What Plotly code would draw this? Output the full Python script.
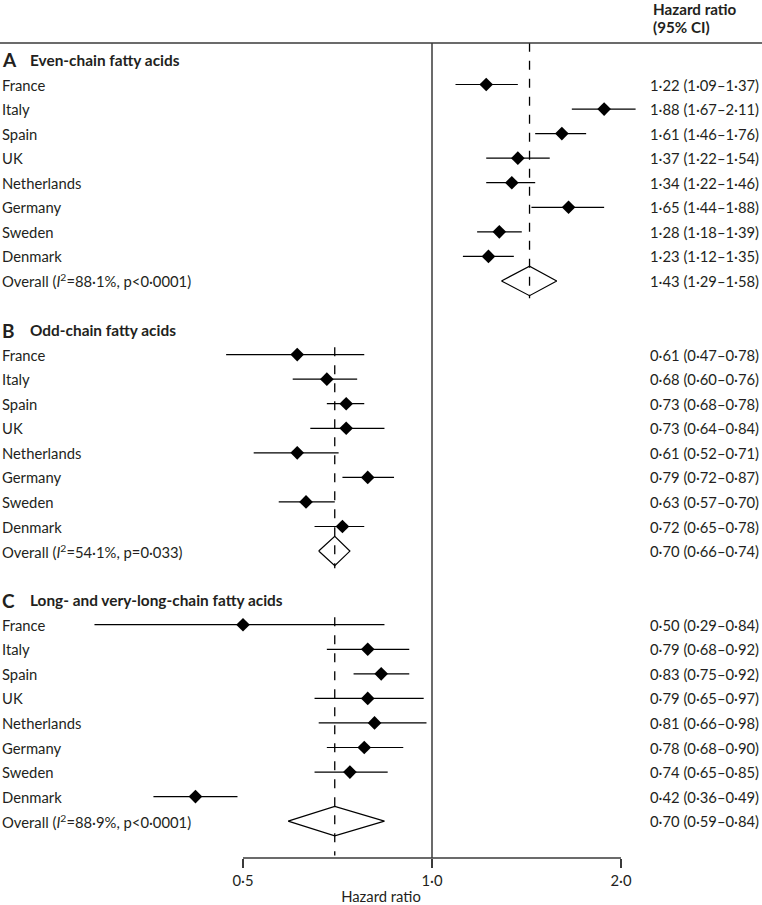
import math
import plotly.graph_objects as go

countries = ["France", "Italy", "Spain", "UK", "Netherlands", "Germany", "Sweden", "Denmark"]

panel_letters = ["A", "B", "C"]
panel_titles = ["Even-chain fatty acids", "Odd-chain fatty acids", "Long- and very-long-chain fatty acids"]

even_hr = [1.22, 1.88, 1.61, 1.37, 1.34, 1.65, 1.28, 1.23]
even_lo = [1.09, 1.67, 1.46, 1.22, 1.22, 1.44, 1.18, 1.12]
even_hi = [1.37, 2.11, 1.76, 1.54, 1.46, 1.88, 1.39, 1.35]

odd_hr = [0.61, 0.68, 0.73, 0.73, 0.61, 0.79, 0.63, 0.72]
odd_lo = [0.47, 0.60, 0.68, 0.64, 0.52, 0.72, 0.57, 0.65]
odd_hi = [0.78, 0.76, 0.78, 0.84, 0.71, 0.87, 0.70, 0.78]

long_hr = [0.50, 0.79, 0.83, 0.79, 0.81, 0.78, 0.74, 0.42]
long_lo = [0.29, 0.68, 0.75, 0.65, 0.66, 0.68, 0.65, 0.36]
long_hi = [0.84, 0.92, 0.92, 0.97, 0.98, 0.90, 0.85, 0.49]

overall_hr = [1.43, 0.70, 0.70]
overall_lo = [1.29, 0.66, 0.59]
overall_hi = [1.58, 0.74, 0.84]
overall_i2 = ["88·1%", "54·1%", "88·9%"]
overall_p = ["p&lt;0·0001", "p=0·033", "p&lt;0·0001"]

tick_vals = [0.5, 1.0, 2.0]
tick_text = ["0·5", "1·0", "2·0"]

panels = [(even_hr, even_lo, even_hi), (odd_hr, odd_lo, odd_hi), (long_hr, long_lo, long_hi)]

FONT = "Lato"
TXT = "#231f20"
FS = 14.8


def fmt(v):
    return f"{v:.2f}".replace(".", "·")


fig = go.Figure()
annotations = []
shapes = []

# layout: each panel = header row + 8 countries + overall + blank row
for p, (hr, lo, hi) in enumerate(panels):
    base = p * 11
    annotations.append(dict(x=0, xref="paper", y=base, yref="y", xanchor="left", yanchor="middle",
                            text=f"<b>{panel_letters[p]}</b>", showarrow=False,
                            font=dict(family=FONT, size=19, color=TXT)))
    annotations.append(dict(x=28 / 762, xref="paper", y=base, yref="y", xanchor="left", yanchor="middle",
                            text=f"<b>{panel_titles[p]}</b>", showarrow=False,
                            font=dict(family=FONT, size=15.4, color=TXT)))
    ys = [base + 1 + i for i in range(len(countries))]
    lx, ly = [], []
    for y, a, b in zip(ys, lo, hi):
        lx += [a, b, None]
        ly += [y, y, None]
    fig.add_trace(go.Scatter(x=lx, y=ly, mode="lines", line=dict(color="black", width=1.2),
                             hoverinfo="skip", showlegend=False))
    fig.add_trace(go.Scatter(x=hr, y=ys, mode="markers",
                             marker=dict(symbol="diamond", size=10.5, color="black"),
                             showlegend=False))
    for y, c, h, a, b in zip(ys, countries, hr, lo, hi):
        annotations.append(dict(x=0, xref="paper", y=y, yref="y", xanchor="left", yanchor="middle",
                                text=c, showarrow=False, font=dict(family=FONT, size=FS, color=TXT)))
        annotations.append(dict(x=648 / 762, xref="paper", y=y, yref="y", xanchor="left", yanchor="middle",
                                text=f"{fmt(h)} ({fmt(a)}–{fmt(b)})", showarrow=False,
                                font=dict(family=FONT, size=FS, color=TXT)))
    yo = base + 9
    hh = 0.6
    o, ol, oh = overall_hr[p], overall_lo[p], overall_hi[p]
    fig.add_trace(go.Scatter(x=[ol, o, oh, o, ol], y=[yo, yo - hh, yo, yo + hh, yo], mode="lines",
                             fill="toself", fillcolor="white", line=dict(color="black", width=1.2),
                             hoverinfo="skip", showlegend=False))
    annotations.append(dict(x=0, xref="paper", y=yo, yref="y", xanchor="left", yanchor="middle",
                            text=f"Overall (<i>I</i><sup>2</sup>={overall_i2[p]}, {overall_p[p]})",
                            showarrow=False, font=dict(family=FONT, size=FS, color=TXT)))
    annotations.append(dict(x=648 / 762, xref="paper", y=yo, yref="y", xanchor="left", yanchor="middle",
                            text=f"{fmt(o)} ({fmt(ol)}–{fmt(oh)})", showarrow=False,
                            font=dict(family=FONT, size=FS, color=TXT)))
    y0 = -0.7 if p == 0 else base + 0.7
    y1 = yo + (1.4 if p == 2 else 0.7)
    shapes.append(dict(type="line", xref="x", yref="y", x0=o, x1=o, y0=y0, y1=y1,
                       line=dict(color="black", width=1.3, dash="dash")))

shapes.append(dict(type="line", xref="x", yref="paper", x0=1.0, x1=1.0, y0=0, y1=1,
                   line=dict(color="#3a3a3a", width=1.5)))
shapes.append(dict(type="line", xref="paper", yref="paper", x0=0, x1=1, y0=1, y1=1,
                   line=dict(color="#3a3a3a", width=1.5)))
shapes.append(dict(type="line", xref="x", yref="paper", x0=tick_vals[0], x1=tick_vals[-1], y0=0, y1=0,
                   line=dict(color="#3a3a3a", width=1.5)))

annotations.append(dict(x=651 / 762, xref="paper", y=(858 - 9) / 815, yref="paper", xanchor="left",
                        yanchor="middle", text="<b>Hazard ratio</b>", showarrow=False,
                        font=dict(family=FONT, size=15.2, color=TXT)))
annotations.append(dict(x=651 / 762, xref="paper", y=(858 - 27) / 815, yref="paper", xanchor="left",
                        yanchor="middle", text="<b>(95% CI)</b>", showarrow=False,
                        font=dict(family=FONT, size=15.2, color=TXT)))

px_per_dec = 378 / math.log10(4)
xr0 = math.log10(0.5) - 243 / px_per_dec
xr1 = math.log10(2.0) + (762 - 621) / px_per_dec

fig.update_layout(
    width=762, height=905,
    margin=dict(l=0, r=0, t=43, b=47),
    paper_bgcolor="white", plot_bgcolor="white",
    showlegend=False,
    annotations=annotations,
    shapes=shapes,
    xaxis=dict(type="log", range=[xr0, xr1], tickvals=tick_vals, ticktext=tick_text,
               ticks="outside", ticklen=9, tickwidth=1.5, tickcolor="#3a3a3a",
               showline=False, showgrid=False, zeroline=False,
               tickfont=dict(family=FONT, size=FS, color=TXT),
               title=dict(text="Hazard ratio", font=dict(family=FONT, size=FS, color=TXT), standoff=4)),
    yaxis=dict(range=[32.5, -0.69], visible=False, showgrid=False, zeroline=False),
)

fig.write_html("out.html", config={"displayModeBar": False},
               post_script="document.body.style.margin='0';document.body.style.padding='0';")
